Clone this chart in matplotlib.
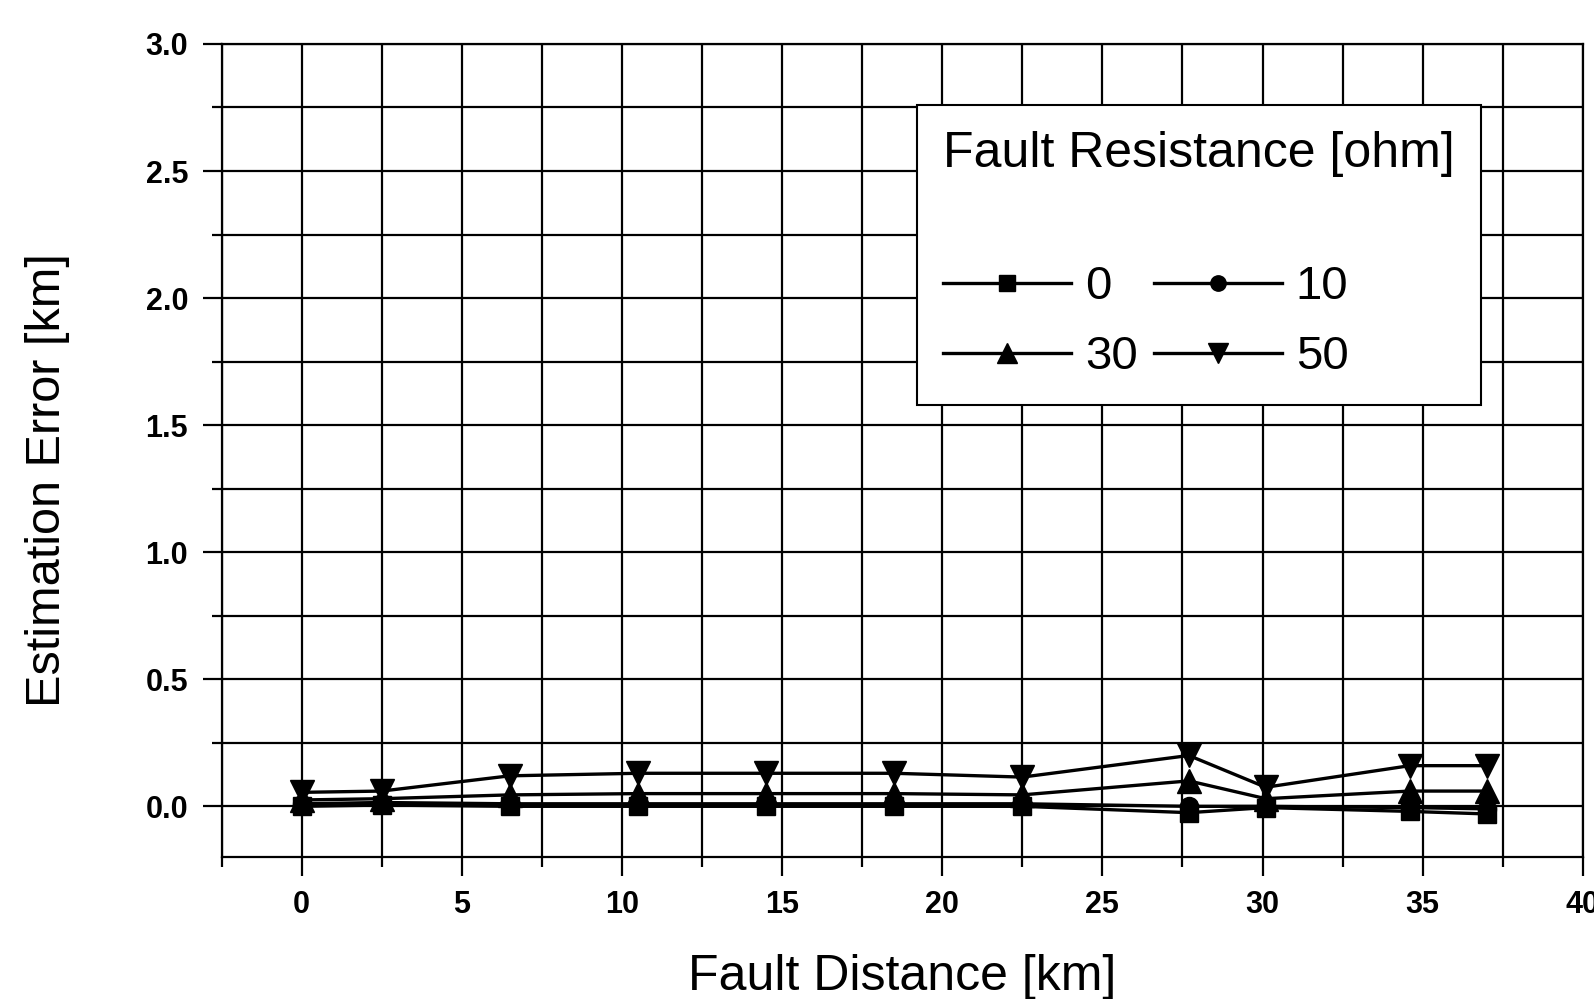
import numpy as np
import matplotlib
matplotlib.use("Agg")
import matplotlib.pyplot as plt
from matplotlib.ticker import MultipleLocator

plt.rcParams['font.family'] = ['Liberation Sans', 'DejaVu Sans']

# data
dist = [0, 2.5, 6.5, 10.5, 14.5, 18.5, 22.5, 27.7, 30.1, 34.6, 37.0]
err_0 = [0.0, 0.005, 0.0, 0.0, 0.0, 0.0, 0.0, -0.025, -0.005, -0.02, -0.03]
err_10 = [0.01, 0.015, 0.01, 0.01, 0.01, 0.01, 0.01, 0.0, 0.0, -0.005, -0.01]
err_30 = [0.025, 0.03, 0.045, 0.05, 0.05, 0.05, 0.045, 0.10, 0.03, 0.06, 0.06]
err_50 = [0.055, 0.06, 0.12, 0.13, 0.13, 0.13, 0.115, 0.20, 0.075, 0.16, 0.16]
labels = ["0", "10", "30", "50"]
markers = ["s", "o", "^", "v"]
msizes = [13, 13, 17, 17]

fig = plt.figure(figsize=(15.94, 9.99), dpi=100)
ax = fig.add_axes([0.139, 0.142, 0.854, 0.814])

handles = []
for y, lab, mk, ms in zip([err_0, err_10, err_30, err_50], labels, markers, msizes):
    h, = ax.plot(dist, y, color="black", lw=2.4, marker=mk, ms=ms,
                 mfc="black", mec="black", label=lab)
    handles.append(h)

ax.set_xlim(-2.5, 40)
ax.set_ylim(-0.2, 3.0)
ax.xaxis.set_major_locator(MultipleLocator(5))
ax.xaxis.set_minor_locator(MultipleLocator(2.5))
ax.yaxis.set_minor_locator(MultipleLocator(0.25))
ax.set_yticks([0, 0.5, 1.0, 1.5, 2.0, 2.5, 3.0])
ax.set_yticklabels(["0.0", "0.5", "1.0", "1.5", "2.0", "2.5", "3.0"])

ax.grid(True, which="both", color="black", lw=1.6)
ax.set_axisbelow(True)
ax.tick_params(which="major", direction="out", length=14, width=1.6,
               labelsize=22, pad=10)
ax.tick_params(which="minor", direction="out", length=7, width=1.6)
for lbl in ax.get_xticklabels() + ax.get_yticklabels():
    lbl.set_fontweight("bold")
for s in ax.spines.values():
    s.set_linewidth(1.6)

ax.set_xlabel("Fault Distance [km]", fontsize=36, labelpad=24)
ax.set_ylabel("Estimation Error [km]", fontsize=35)
ax.yaxis.set_label_coords(-0.111, 0.464)

order = [0, 2, 1, 3]
leg = ax.legend([handles[i] for i in order], [labels[i] for i in order],
                ncol=2, title="Fault Resistance [ohm]\n", fontsize=34,
                title_fontsize=36, loc="upper left",
                bbox_to_anchor=(0.511, 0.925), fancybox=False,
                framealpha=1, edgecolor="black", markerscale=0.85,
                handlelength=2.7, handletextpad=0.3, columnspacing=0.35,
                labelspacing=0.55, borderpad=0.55, borderaxespad=0)
leg.get_frame().set_linewidth(1.5)
leg.get_title().set_linespacing(1.45)
leg._legend_box.align = "left"

fig.savefig("out.png", dpi=100)
